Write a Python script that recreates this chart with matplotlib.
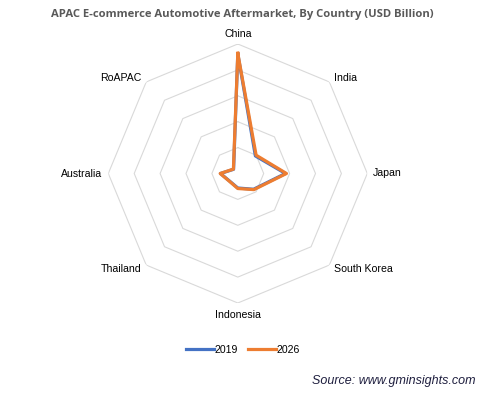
import numpy as np
import matplotlib
matplotlib.use("Agg")
import matplotlib.pyplot as plt

categories = ["China", "India", "Japan", "South Korea", "Indonesia", "Thailand", "Australia", "RoAPAC"]
values_2019 = [23.1, 4.8, 9.2, 4.3, 2.8, 2.15, 3.35, 1.15]
values_2026 = [23.2, 5.0, 9.4, 4.4, 2.9, 2.2, 3.4, 1.2]
ring_levels = [5, 10, 15, 20, 25]
series_names = ["2019", "2026"]
colors = ["#4472C4", "#ED7D31"]

W, H = 499, 397
fig = plt.figure(figsize=(W / 100, H / 100), dpi=100)
plt.rcParams['font.family'] = ['Liberation Sans', 'DejaVu Sans']

cx, cy, R = 237.8, 173.5, 129.5
ax = fig.add_axes([(cx - R) / W, 1 - (cy + R) / H, 2 * R / W, 2 * R / H], projection='polar')
ax.set_theta_zero_location('N')
ax.set_theta_direction(-1)
ax.set_ylim(0, ring_levels[-1])
ax.grid(False)
ax.spines['polar'].set_visible(False)
ax.set_xticks([])
ax.set_yticks([])
ax.patch.set_alpha(0)

n = len(categories)
theta = np.linspace(0, 2 * np.pi, n, endpoint=False)
theta_c = np.append(theta, theta[0])

for lv in ring_levels:
    ax.plot(theta_c, [lv] * (n + 1), color="#D9D9D9", lw=0.8, zorder=1)

for vals, col, name in zip([values_2019, values_2026], colors, series_names):
    v = np.append(vals, vals[0])
    ax.plot(theta_c, v, color=col, lw=2.3, label=name, zorder=3, solid_joinstyle='round')

# category labels
lab_r = ring_levels[-1]
for t, c in zip(theta, categories):
    deg = np.degrees(t)
    if abs(deg) < 1:
        ha, va, off = 'center', 'bottom', (0, 5)
    elif abs(deg - 180) < 1:
        ha, va, off = 'center', 'top', (0, -7)
    elif 0 < deg < 180:
        ha, va = 'left', 'center'
        off = (6, 0) if abs(deg - 90) < 1 else (5, 4 if deg < 90 else -4)
    else:
        ha, va = 'right', 'center'
        off = (-6, 0) if abs(deg - 270) < 1 else (-5, 4 if deg > 270 else -4)
    ax.annotate(c, xy=(t, lab_r), xytext=off, textcoords='offset pixels',
                ha=ha, va=va, fontsize=7.6, color="#000000")

fig.text(242 / W, 1 - 15 / H, "APAC E-commerce Automotive Aftermarket, By Country (USD Billion)",
         ha='center', va='center', fontsize=8.1, fontweight='bold', color="#595959",
         family=['Open Sans', 'DejaVu Sans'])

fig.legend(loc='center', bbox_to_anchor=(243 / W, 1 - 350 / H), ncol=2, frameon=False,
           fontsize=7.6, handlelength=2.7, handletextpad=0.05, columnspacing=0.9)

fig.text(476 / W, 1 - 381 / H, "Source: www.gminsights.com", ha='right', va='center',
         fontsize=9, style='italic', color="#1F1F3F")

fig.savefig("out.png", dpi=100)
